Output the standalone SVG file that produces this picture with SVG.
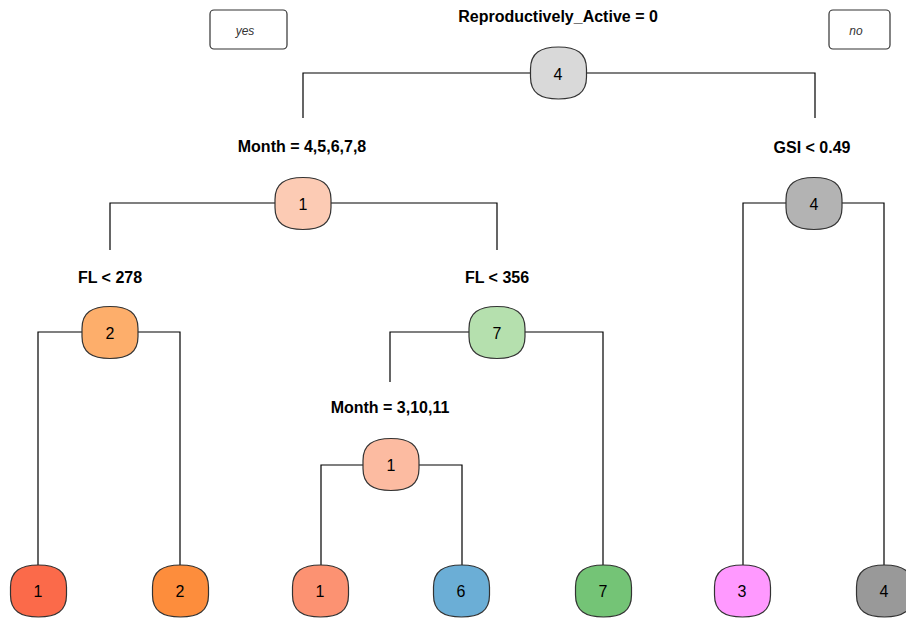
<svg xmlns="http://www.w3.org/2000/svg" width="906" height="618" viewBox="0 0 906 618">
<style>
.bg{fill:#ffffff}
.e{fill:none;stroke:#000;stroke-width:1.2}
.n{stroke:#333;stroke-width:1.2}
.lab{font-family:"Liberation Sans",Arial,sans-serif;font-size:16px;font-weight:bold;text-anchor:middle;fill:#000}
.num{font-family:"Liberation Sans",Arial,sans-serif;font-size:16px;text-anchor:middle;fill:#000}
.yn{font-family:"Liberation Sans",Arial,sans-serif;font-size:12px;font-style:italic;text-anchor:middle;fill:#333}
.box{fill:#fff;stroke:#333;stroke-width:1.2}
</style>
<defs>
<path id="blob" d="M-28,-4 C-28,-20 -18,-26 0,-26 C18,-26 28,-20 28,-4 L28,4 C28,20 18,26 0,26 C-18,26 -28,20 -28,4 Z"/>
</defs>
<rect class="bg" x="0" y="0" width="906" height="618"/>
<g id="connectors">
<path class="e" d="M303,118 V73 H815 V118"/>
<path class="e" d="M110,250 V203 H497 V250"/>
<path class="e" d="M743,565 V203 H884 V565"/>
<path class="e" d="M38,565 V332 H180 V565"/>
<path class="e" d="M390,382 V332 H603 V565"/>
<path class="e" d="M321,565 V465 H462 V565"/>
</g>
<g id="legend-yes"><rect class="box" x="210" y="10" width="77" height="39" rx="4"/><text class="yn" x="245" y="35">yes</text></g>
<g id="legend-no"><rect class="box" x="829" y="10" width="61" height="39" rx="4"/><text class="yn" x="856" y="35">no</text></g>
<g id="root"><text class="lab" x="558" y="22">Reproductively_Active = 0</text><use href="#blob" class="n" transform="translate(558.5,73)" fill="#D9D9D9"/><text class="num" x="558" y="80">4</text></g>
<g id="month1"><text class="lab" x="302" y="152">Month = 4,5,6,7,8</text><use href="#blob" class="n" transform="translate(303,203.5)" fill="#FCCBB4"/><text class="num" x="303" y="210">1</text></g>
<g id="gsi"><text class="lab" x="812" y="153">GSI &lt; 0.49</text><use href="#blob" class="n" transform="translate(814,203.5)" fill="#B3B3B3"/><text class="num" x="814" y="210">4</text></g>
<g id="fl278"><text class="lab" x="110" y="283">FL &lt; 278</text><use href="#blob" class="n" transform="translate(110,332.5)" fill="#FDAE6B"/><text class="num" x="110" y="339">2</text></g>
<g id="fl356"><text class="lab" x="497" y="283">FL &lt; 356</text><use href="#blob" class="n" transform="translate(497,332.5)" fill="#B5E0AE"/><text class="num" x="497" y="339">7</text></g>
<g id="month2"><text class="lab" x="390" y="413">Month = 3,10,11</text><use href="#blob" class="n" transform="translate(391,464.5)" fill="#FCBBA1"/><text class="num" x="391" y="471">1</text></g>
<g id="leaf1"><use href="#blob" class="n" transform="translate(38.5,591)" fill="#FB6A4A"/><text class="num" x="38" y="597">1</text></g>
<g id="leaf2"><use href="#blob" class="n" transform="translate(180.5,591)" fill="#FD8D3C"/><text class="num" x="180" y="597">2</text></g>
<g id="leaf3"><use href="#blob" class="n" transform="translate(320.5,591)" fill="#FC9272"/><text class="num" x="320" y="597">1</text></g>
<g id="leaf4"><use href="#blob" class="n" transform="translate(461.5,591)" fill="#6BAED6"/><text class="num" x="461" y="597">6</text></g>
<g id="leaf5"><use href="#blob" class="n" transform="translate(603.5,591)" fill="#74C476"/><text class="num" x="603" y="597">7</text></g>
<g id="leaf6"><use href="#blob" class="n" transform="translate(742.5,591)" fill="#FF99FF"/><text class="num" x="742" y="597">3</text></g>
<g id="leaf7"><use href="#blob" class="n" transform="translate(884.5,591)" fill="#999999"/><text class="num" x="884" y="597">4</text></g>
</svg>
